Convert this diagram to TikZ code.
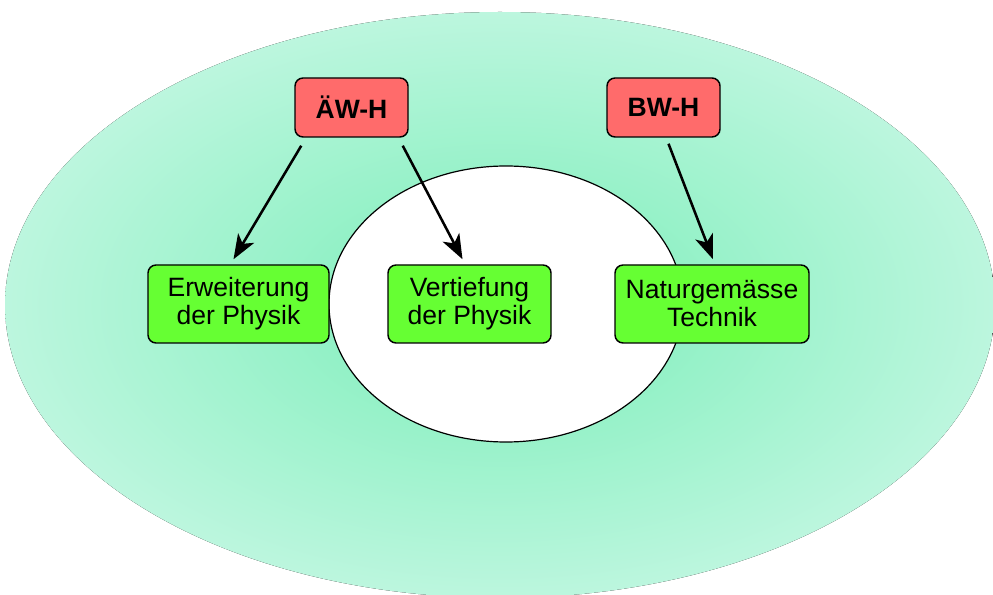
\documentclass[tikz,border=0pt]{standalone}
\usepackage{fontspec}
\setmainfont{Liberation Sans}
\usetikzlibrary{arrows.meta}
\definecolor{haloin}{HTML}{92F1C6}
\definecolor{haloout}{HTML}{BCF6DE}
\definecolor{hred}{HTML}{FF6B6B}
\definecolor{zgreen}{HTML}{66FF33}
\pgfdeclareradialshading{halo}{\pgfpoint{0bp}{0bp}}{color(0bp)=(haloin); color(9bp)=(haloin); color(25bp)=(haloout); color(50bp)=(haloout)}

\begin{document}
\begin{tikzpicture}[x=0.75pt, y=-0.75pt,
    every node/.style={font=\fontsize{19.9}{21}\selectfont},
    hbox/.style={draw, rounded corners=6pt, line width=1.1pt, fill=hred,
                 minimum width=84.75pt, minimum height=44.25pt,
                 font=\fontsize{19.9}{21}\selectfont\bfseries},
    zbox/.style={draw, rounded corners=6pt, line width=1.1pt, fill=zgreen,
                 minimum height=58.5pt, align=center, inner sep=2pt},
    arr/.style={-{Stealth[length=18.5pt, width=14pt, inset=5pt]}, line width=1.9pt}
  ]
  \useasboundingbox (0,0) rectangle (993,595);
  \fill[shading=halo] (500,305) ellipse [x radius=371.25pt, y radius=219.75pt];
  \filldraw[fill=white, line width=0.9pt] (506,304) ellipse [x radius=132.75pt, y radius=103.5pt];

  \node[hbox] (awh) at (351.5,107.5) {ÄW-H};
  \node[hbox] (bwh) at (663.5,107.5) {BW-H};
  \node[zbox, minimum width=135.75pt] (erw)  at (238.5,304) {Erweiterung\\der Physik};
  \node[zbox, minimum width=122.25pt] (vert) at (469.5,304) {Vertiefung\\der Physik};
  \node[zbox, minimum width=145.5pt]  (nat)  at (712,304)   {Naturgemässe\\Technik};

  \draw[arr] ([shift={(7,8)}]awh.south west) -- ([shift={(-5,-5)}]erw.north);
  \draw[arr] ([shift={(-6,8)}]awh.south east) -- ([shift={(-7,-5)}]vert.north);
  \draw[arr] ([shift={(5,6)}]bwh.south) -- ([shift={(1,-5)}]nat.north);
\end{tikzpicture}
\end{document}
